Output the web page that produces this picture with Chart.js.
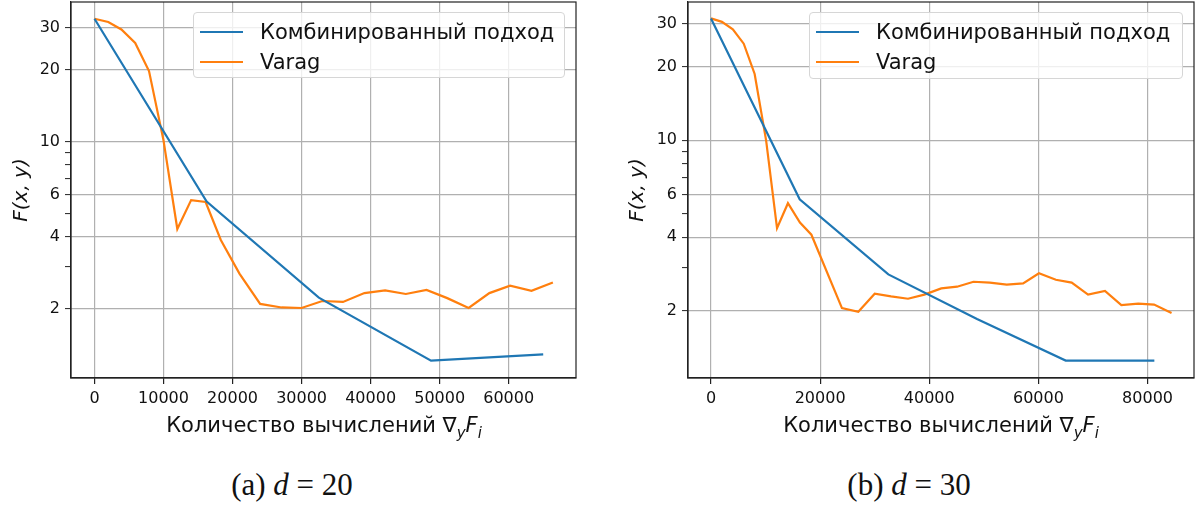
<!DOCTYPE html>
<html>
<head>
<meta charset="utf-8">
<script src="https://cdn.jsdelivr.net/npm/chart.js@4.4.0/dist/chart.umd.min.js"></script>
<style>
body { margin: 0; background: #fff; width: 1199px; height: 506px; overflow: hidden; position: relative; font-family: "DejaVu Sans", sans-serif; color: #111; }
.panel { position: absolute; top: 0; height: 445px; }
.legend { position: absolute; background: rgba(255,255,255,0.8); border: 1px solid #d6d6d6; border-radius: 4px; box-sizing: border-box; font-size: 21px; z-index: 2; }
.legend .swatch { position: absolute; left: 6px; width: 43px; height: 2.2px; }
.legend .text { position: absolute; left: 66px; white-space: nowrap; transform: translateY(-50%); }
.xlabel { position: absolute; font-size: 21px; transform: translate(-50%, -50%); white-space: nowrap; }
.xlabel .s { font-size: 15px; position: relative; top: 6px; font-style: italic; }
.caption { position: absolute; font-family: "Liberation Serif", serif; font-size: 31px; transform: translate(-50%, -50%); white-space: nowrap; }
</style>
</head>
<body>
<div class="panel" style="left:0; width:600px;"><canvas id="chartLeft" width="600" height="445"></canvas></div>
<div class="panel" style="left:600px; width:599px;"><canvas id="chartRight" width="599" height="445"></canvas></div>
<div class="legend" id="legendLeft" style="left:193px; top:12px; width:372px; height:66px;"></div>
<div class="legend" id="legendRight" style="left:809px; top:12px; width:374px; height:67px;"></div>
<div class="xlabel" style="left:324px; top:425px;">Количество вычислений ∇<span class="s">y</span><i>F</i><span class="s">i</span></div>
<div class="xlabel" style="left:941px; top:425px;">Количество вычислений ∇<span class="s">y</span><i>F</i><span class="s">i</span></div>
<div class="caption" style="left:292px; top:485px;">(a) <i>d</i> = 20</div>
<div class="caption" style="left:909px; top:485px;">(b) <i>d</i> = 30</div>
<script>
let seriesNames = ["Комбинированный подход", "Varag"];
let seriesColors = ["#1f77b4", "#ff7f0e"];

// d = 20
let leftCombX = [0, 16250, 32500, 48750, 65000];
let leftCombY = [32.6, 5.6, 2.22, 1.21, 1.285];
let leftVaragX = [0, 2000, 3900, 5900, 7900, 10000, 12000, 14000, 16100, 18300, 21000, 24000, 27100, 30000, 33000, 36000, 39100, 42100, 45100, 48100, 51100, 54200, 57200, 60200, 63300, 66400];
let leftVaragY = [32.6, 31.6, 29.4, 25.8, 19.7, 10.1, 4.3, 5.68, 5.58, 3.87, 2.8, 2.09, 2.02, 2.01, 2.15, 2.13, 2.32, 2.38, 2.30, 2.39, 2.21, 2.01, 2.32, 2.49, 2.37, 2.57];
let leftXTicks = [0, 10000, 20000, 30000, 40000, 50000, 60000];

// d = 30
let rightCombX = [0, 16250, 32500, 48750, 65000, 81250];
let rightCombY = [31.6, 5.73, 2.82, 1.85, 1.25, 1.25];
let rightVaragX = [0, 2000, 4000, 6000, 8000, 10100, 12100, 14100, 16300, 18400, 24000, 27000, 30000, 33000, 36100, 39100, 42200, 45100, 48100, 51100, 54200, 57200, 60100, 63200, 66100, 69100, 72200, 75200, 78300, 81200, 84400];
let rightVaragY = [31.6, 30.6, 28.5, 24.9, 18.7, 10.0, 4.36, 5.52, 4.6, 4.1, 2.05, 1.98, 2.35, 2.29, 2.24, 2.33, 2.47, 2.51, 2.63, 2.61, 2.56, 2.59, 2.85, 2.68, 2.61, 2.33, 2.41, 2.11, 2.14, 2.12, 1.96];
let rightXTicks = [0, 20000, 40000, 60000, 80000];

let yTicksAll = [2, 3, 4, 5, 6, 7, 8, 9, 10, 20, 30];
let yLabels = [2, 4, 6, 10, 20, 30];

let framePlugin = {
	id: "frame",
	afterDraw(chart) {
		let a = chart.chartArea;
		let ctx = chart.ctx;
		ctx.save();
		ctx.strokeStyle = "#222";
		ctx.lineWidth = 1.2;
		ctx.strokeRect(a.left, a.top, a.right - a.left, a.bottom - a.top);
		ctx.restore();
	}
};

function toPoints(xs, ys) {
	let pts = [];
	for (let i = 0; i < xs.length; i++) {
		pts.push({ x: xs[i], y: ys[i] });
	}
	return pts;
}

function makeChart(id, combX, combY, varagX, varagY, xTicks, xMin, xMax, yMin, yMax, areaLeft, padRight, titlePad) {
	let tickFont = { family: "DejaVu Sans", size: 16 };
	let config = {
		type: "line",
		data: {
			datasets: [{
				label: seriesNames[0],
				data: toPoints(combX, combY),
				borderColor: seriesColors[0],
				backgroundColor: seriesColors[0],
				borderWidth: 2.2,
				pointRadius: 0,
				tension: 0
			}, {
				label: seriesNames[1],
				data: toPoints(varagX, varagY),
				borderColor: seriesColors[1],
				backgroundColor: seriesColors[1],
				borderWidth: 2.2,
				pointRadius: 0,
				tension: 0
			}]
		},
		options: {
			responsive: false,
			animation: false,
			layout: { padding: { left: 0, top: 2, right: padRight, bottom: 0 } },
			plugins: { legend: { display: false }, tooltip: { enabled: false } },
			scales: {
				x: {
					type: "linear",
					bounds: "data",
					min: xMin,
					max: xMax,
					afterBuildTicks: function (scale) {
						scale.ticks = xTicks.map(v => ({ value: v }));
					},
					afterFit: function (scale) {
						scale.height = 67;
						scale.paddingLeft = 0;
						scale.paddingRight = 0;
					},
					ticks: { font: tickFont, color: "#111", padding: 5, maxRotation: 0, callback: v => String(v) },
					grid: { color: "#b0b0b0", lineWidth: 1.2, drawTicks: true, tickLength: 6, tickColor: "#222", tickWidth: 1.2 },
					border: { display: true, color: "#222", width: 1.2 }
				},
				y: {
					type: "logarithmic",
					bounds: "data",
					min: yMin,
					max: yMax,
					afterBuildTicks: function (scale) {
						scale.ticks = yTicksAll.map(v => ({ value: v }));
					},
					afterFit: function (scale) {
						scale.width = areaLeft;
						scale.paddingTop = 0;
						scale.paddingBottom = 0;
					},
					ticks: {
						font: tickFont, color: "#111", padding: 5,
						callback: v => yLabels.includes(v) ? String(v) : ""
					},
					grid: {
						color: ctx => (ctx.tick && yLabels.includes(ctx.tick.value)) ? "#b0b0b0" : "rgba(0,0,0,0)",
						lineWidth: 1.2, drawTicks: true, tickLength: 6, tickColor: "#222", tickWidth: 1
					},
					border: { display: true, color: "#222", width: 1.2 },
					title: {
						display: true, text: "F(x, y)", color: "#111",
						font: { family: "DejaVu Sans", size: 20, style: "italic" },
						padding: { top: titlePad, bottom: 0 }
					}
				}
			}
		},
		plugins: [framePlugin]
	};
	return new Chart(document.getElementById(id).getContext("2d"), config);
}

function buildLegend(chart, boxId) {
	let box = document.getElementById(boxId);
	let rowsY = [19, 49];
	chart.data.datasets.forEach(function (ds, i) {
		let sw = document.createElement("div");
		sw.className = "swatch";
		sw.style.background = ds.borderColor;
		sw.style.top = (rowsY[i] - 1) + "px";
		let tx = document.createElement("div");
		tx.className = "text";
		tx.style.top = rowsY[i] + "px";
		tx.innerText = ds.label;
		box.appendChild(sw);
		box.appendChild(tx);
	});
}

let chartLeft = makeChart("chartLeft", leftCombX, leftCombY, leftVaragX, leftVaragY, leftXTicks, -3400, 69750, 1.024, 38.3, 71, 24, 10);
let chartRight = makeChart("chartRight", rightCombX, rightCombY, rightVaragX, rightVaragY, rightXTicks, -4215, 88515, 1.06, 36.9, 88, 5, 26);
buildLegend(chartLeft, "legendLeft");
buildLegend(chartRight, "legendRight");
</script>
</body>
</html>
